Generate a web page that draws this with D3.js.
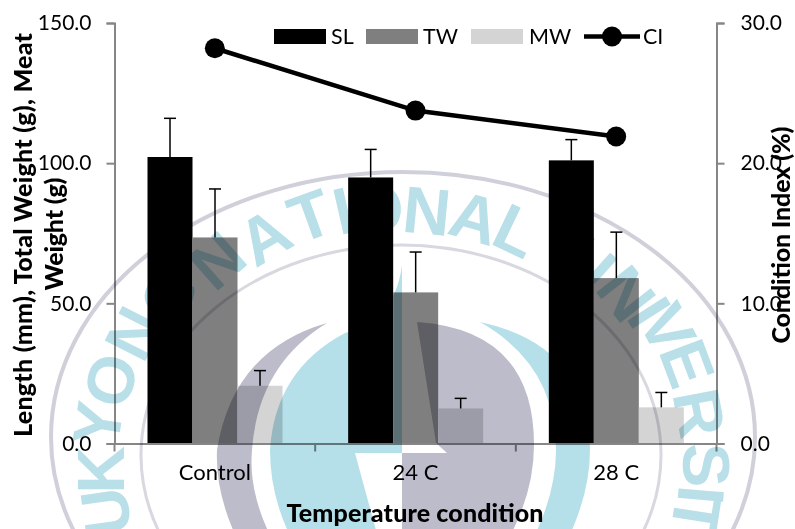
<!DOCTYPE html>
<html><head><meta charset="utf-8">
<script src="https://cdn.jsdelivr.net/npm/d3@7/dist/d3.min.js"></script>
<style>
html,body{margin:0;padding:0;background:#fff}
svg{display:block}
text{font-family:Lato,"Open Sans",sans-serif;fill:#000}
.wm{mix-blend-mode:multiply}
.wm text{font-family:"Liberation Sans",sans-serif;font-weight:700;fill:#b9dfe9}
</style></head><body>
<svg id="c" width="795" height="529"></svg>
<script>
const categories = ["Control","24 C","28 C"];
const seriesNames = ["SL","TW","MW"];
const seriesColors = ["#000000","#7f7f7f","#d4d4d4"];
const slValues = [102.2,94.9,101.0];
const twValues = [73.5,53.9,59.0];
const mwValues = [20.6,12.5,12.9];
const slErrors = [13.8,10.0,7.4];
const twErrors = [17.3,14.4,16.4];
const mwErrors = [5.4,3.6,5.3];
const ciValues = [28.2,23.75,21.9];
const leftTicks = [0,50,100,150];
const rightTicks = [0,10,20,30];

const values = [slValues,twValues,mwValues];
const errors = [slErrors,twErrors,mwErrors];

const L=114.5,R=716.5,T=23,B=443.5;
const svg=d3.select("#c");
const x0=d3.scaleBand().domain(categories).range([L,R]);
const x1=d3.scaleBand().domain(seriesNames).range([33,168]);
const yL=d3.scaleLinear().domain([0,150]).range([B,T]);
const yR=d3.scaleLinear().domain([0,30]).range([B,T]);

// bars
seriesNames.forEach((s,i)=>{
  svg.append("g").selectAll("rect").data(categories).join("rect")
    .attr("x",c=>x0(c)+x1(s)).attr("width",x1.bandwidth())
    .attr("y",(c,j)=>yL(values[i][j])).attr("height",(c,j)=>B-yL(values[i][j]))
    .attr("fill",seriesColors[i]);
  const g=svg.append("g").attr("stroke","#000").attr("stroke-width",1.5);
  categories.forEach((c,j)=>{
    const cx=x0(c)+x1(s)+x1.bandwidth()/2,top=yL(values[i][j]+errors[i][j]);
    g.append("line").attr("x1",cx).attr("x2",cx).attr("y1",yL(values[i][j])).attr("y2",top);
    g.append("line").attr("x1",cx-6).attr("x2",cx+6).attr("y1",top).attr("y2",top);
  });
});

// axes
function styleAxis(g,size){
  g.selectAll(".domain").attr("stroke","#868686").attr("stroke-width",2);
  g.selectAll(".tick line").attr("stroke","#868686").attr("stroke-width",2);
  g.selectAll(".tick text").attr("font-size",size).attr("fill","#000").style("font-family","Lato");
  g.attr("font-family",null);
}
const gl=svg.append("g").attr("transform",`translate(${L},0)`)
  .call(d3.axisLeft(yL).tickValues(leftTicks).tickFormat(d3.format(".1f")).tickSize(8).tickSizeOuter(8).tickPadding(15));
styleAxis(gl,21);
const gr=svg.append("g").attr("transform",`translate(${R},0)`)
  .call(d3.axisRight(yR).tickValues(rightTicks).tickFormat(d3.format(".1f")).tickSize(8).tickSizeOuter(8).tickPadding(16));
styleAxis(gr,21);
const gb=svg.append("g").attr("transform",`translate(0,${B})`)
  .call(d3.axisBottom(x0).tickSize(0).tickPadding(21));
styleAxis(gb,22);
gb.selectAll(".tick line").remove();
gb.selectAll("line.bd").data([0,1,2,3]).join("line").attr("class","bd")
  .attr("x1",i=>L+i*x0.bandwidth()).attr("x2",i=>L+i*x0.bandwidth())
  .attr("y1",0).attr("y2",8).attr("stroke","#868686").attr("stroke-width",2);

// CI line
const ciX=c=>x0(c)+x0.bandwidth()/2;
svg.append("path").datum(categories)
  .attr("d",d3.line().x(ciX).y((c,j)=>yR(ciValues[j])))
  .attr("fill","none").attr("stroke","#000").attr("stroke-width",4.5);
svg.append("g").selectAll("circle").data(categories).join("circle")
  .attr("cx",ciX).attr("cy",(c,j)=>yR(ciValues[j])).attr("r",10).attr("fill","#000");

// titles
const title=(t,x,y,rot,len)=>svg.append("text").text(t).attr("text-anchor","middle")
  .attr("font-weight",900).attr("font-size",25).attr("textLength",len).attr("lengthAdjust","spacing")
  .attr("transform",`translate(${x},${y})`+(rot?" rotate(-90)":""));
title("Length (mm), Total Weight (g), Meat",32,235,true,404);
title("Weight (g)",63,234,true,113);
title("Condition Index (%)",790,235,true,217);
title("Temperature condition",415,522,false,257);

// legend
const legendX=[274,366,471], legendTextX=[331,423,529];
seriesNames.forEach((s,i)=>{
  svg.append("rect").attr("x",legendX[i]).attr("y",29).attr("width",52).attr("height",15).attr("fill",seriesColors[i]);
  svg.append("text").text(s).attr("x",legendTextX[i]).attr("y",44).attr("font-size",21.5);
});
svg.append("line").attr("x1",584).attr("x2",640).attr("y1",36.5).attr("y2",36.5).attr("stroke","#000").attr("stroke-width",4.5);
svg.append("circle").attr("cx",612).attr("cy",36.5).attr("r",10).attr("fill","#000");
svg.append("text").text("CI").attr("x",643).attr("y",44).attr("font-size",21.5);

// background watermark seal, multiplied over the chart
const wm=svg.append("g").attr("class","wm");
wm.append("ellipse").attr("cx",403).attr("cy",437).attr("rx",352).attr("ry",265)
  .attr("fill","none").attr("stroke","#cfd0da").attr("stroke-width",4);
wm.append("ellipse").attr("cx",401).attr("cy",455).attr("rx",260).attr("ry",210)
  .attr("fill","none").attr("stroke","#d8d8e0").attr("stroke-width",3);
wm.append("path").attr("d","M327,323 Q233,350 217,450 Q215,495 240,545 L275,545 Q248,495 252,450 Q258,365 327,323Z").attr("fill","#bcbccb");
wm.append("path").attr("d","M402,265 Q395,320 345,333 Q275,370 270,450 Q270,500 295,545 L380,545 L355,453 L402,453Z").attr("fill","#b5dfe9");
wm.append("path").attr("d","M417,322 Q534,330 534,445 Q534,495 505,545 L402,545 L402,453 L447,453 L436,443Z").attr("fill","#bcbccb");
wm.append("path").attr("d","M480,322 Q588,345 590,450 Q590,495 565,545 L530,545 Q556,495 556,450 Q556,365 480,322Z").attr("fill","#b5dfe9");
const sealGlyphs=[["U",105,512],["K",100,470],["Y",97,424],["O",110,380],["N",133,333],["G",168,295],
 ["N",217,260],["A",264,236],["T",310,215],["I",343,210],["O",378,208],["N",427,210],["A",475,217],["L",517,230],
 ["U",588,262],["N",627,293],["I",650,312],["V",668,328],["E",688,363],["R",700,413],["S",707,465],["I",702,495],["T",697,516]];
wm.selectAll("text").data(sealGlyphs).join("text")
  .attr("font-size",66).attr("text-anchor","middle").attr("dy","0.36em")
  .attr("transform",d=>`translate(${d[1]},${d[2]}) rotate(${Math.atan2(d[1]-402,470-d[2])*180/Math.PI})`)
  .text(d=>d[0]);
</script>
</body></html>
